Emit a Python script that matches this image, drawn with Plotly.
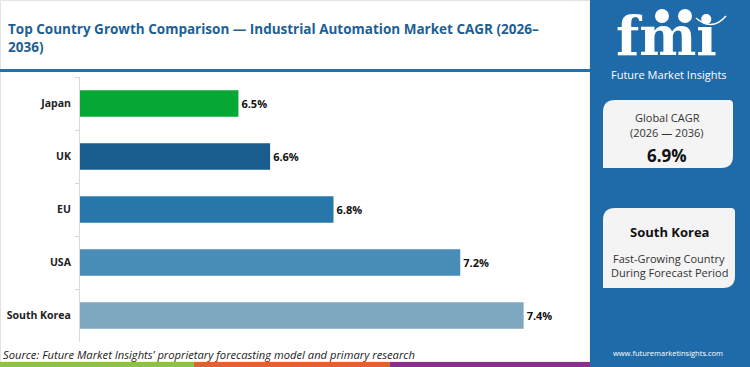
import plotly.graph_objects as go

# ---- data ----
countries = ["Japan", "UK", "EU", "USA", "South Korea"]
cagr = [6.5, 6.6, 6.8, 7.2, 7.4]
bar_colors = ["#05a834", "#195d8e", "#2877ab", "#478db8", "#7ea7c0"]
value_labels = [f"{v:.1f}%" for v in cagr]

title_text = "Top Country Growth Comparison — Industrial Automation Market CAGR (2026–<br>2036)"
global_cagr_label = "Global CAGR"
global_cagr_period = "(2026 — 2036)"
global_cagr_value = "6.9%"
fast_country = "South Korea"
fast_desc = ["Fast-Growing Country", "During Forecast Period"]
source_text = "Source: Future Market Insights’ proprietary forecasting model and primary research"
website = "www.futuremarketinsights.com"

# ---- layout geometry (pixels) ----
W, H = 750, 367
L, R, T, B = 80, 163, 77, 25
PW, PH = W - L - R, H - T - B

def px(x):
    return (x - L) / PW

def py(y):
    return (H - B - y) / PH

FONT = "Open Sans"
PANEL = "#1f6aa8"

fig = go.Figure()
fig.add_trace(go.Bar(
    y=countries, x=cagr, orientation="h",
    marker=dict(color=bar_colors, line=dict(width=0)),
    width=0.5,
    text=value_labels, textposition="outside", cliponaxis=False,
    constraintext="none",
    textfont=dict(family=FONT, size=11, color="#111111", weight="bold"),
    hoverinfo="skip",
))

shapes = []
# left panel light border
shapes.append(dict(type="rect", xref="paper", yref="paper",
                   x0=px(0.5), x1=px(590), y0=py(0.5), y1=py(362),
                   line=dict(color="#e3e3e3", width=1), fillcolor="rgba(0,0,0,0)", layer="below"))
# right blue panel
shapes.append(dict(type="rect", xref="paper", yref="paper",
                   x0=px(590), x1=px(750), y0=py(0), y1=py(367),
                   line=dict(width=0), fillcolor=PANEL, layer="below"))
# divider under title
shapes.append(dict(type="rect", xref="paper", yref="paper",
                   x0=px(0), x1=px(590), y0=py(69), y1=py(72),
                   line=dict(width=0), fillcolor="#2471aa", layer="below"))
# bottom colour strip
for x0, x1, c in [(0, 194, "#8cc43f"), (194, 390, "#e0632b"), (390, 590, "#8a2f8b")]:
    shapes.append(dict(type="rect", xref="paper", yref="paper",
                       x0=px(x0), x1=px(x1), y0=py(362), y1=py(367),
                       line=dict(width=0), fillcolor=c, layer="below"))

def rbox(x0, y0, x1, y1, r):
    # rounded top-left & bottom-right corners, in pixel coords -> paper
    pts = [
        f"M {px(x0)},{py(y0 + r)}",
        f"Q {px(x0)},{py(y0)} {px(x0 + r)},{py(y0)}",
        f"L {px(x1 - 4)},{py(y0)}",
        f"Q {px(x1)},{py(y0)} {px(x1)},{py(y0 + 4)}",
        f"L {px(x1)},{py(y1 - r)}",
        f"Q {px(x1)},{py(y1)} {px(x1 - r)},{py(y1)}",
        f"L {px(x0)},{py(y1)}",
        "Z",
    ]
    return dict(type="path", xref="paper", yref="paper", path=" ".join(pts),
                fillcolor="#f4f4f4", line=dict(width=0), layer="below")

shapes.append(rbox(603, 100, 733, 168, 12))
shapes.append(rbox(603, 208, 735, 288, 12))

# logo circles (globe marks above the letters)
for cx, cy in [(662, 16), (685, 16)]:
    shapes.append(dict(type="circle", xref="paper", yref="paper",
                       x0=px(cx - 7), x1=px(cx + 7), y0=py(cy - 7), y1=py(cy + 7),
                       fillcolor="white", line=dict(width=0), layer="below"))
shapes.append(dict(type="path", xref="paper", yref="paper",
                   path=f"M {px(696)},{py(18)} Q {px(712)},{py(32)} {px(726)},{py(16)}",
                   line=dict(color="white", width=1.5), layer="below"))

annotations = []
def ann(text, x, y, size, color, bold=False, italic=False, xanchor="center", family=FONT, **kw):
    f = dict(family=family, size=size, color=color)
    if bold:
        f["weight"] = "bold"
    if italic:
        f["style"] = "italic"
    d = dict(text=text, xref="paper", yref="paper", x=px(x), y=py(y),
             xanchor=xanchor, yanchor="middle", showarrow=False, font=f)
    d.update(kw)
    annotations.append(d)

# logo text
ann("fmi", 666, 36, 54, "white", bold=True, family="DejaVu Serif")
ann("Future Market Insights", 669, 74, 11, "white")
# boxes
ann(global_cagr_label, 667, 117, 11, "#333333")
ann(global_cagr_period, 667, 132, 11, "#333333")
ann(global_cagr_value, 667, 155, 17, "#111111", bold=True)
ann(fast_country, 669, 232, 13, "#111111", bold=True)
ann(fast_desc[0], 669, 258, 11, "#333333")
ann(fast_desc[1], 669, 272, 11, "#333333")
# source + website
ann(source_text, 1, 354, 11.2, "#222222", italic=True, xanchor="left")
ann(website, 668, 353, 7.5, "white")

fig.update_layout(
    template="none",
    width=W, height=H,
    margin=dict(l=L, r=R, t=T, b=B, autoexpand=False),
    paper_bgcolor="white", plot_bgcolor="white",
    showlegend=False,
    title=dict(text=title_text, xref="container", yref="container",
               x=8 / W, y=1 - 34 / H, xanchor="left", yanchor="middle",
               font=dict(family=FONT, size=13.5, color="#1d5f93", weight="bold")),
    xaxis=dict(range=[6.0, 7.6], showgrid=False, showticklabels=False, zeroline=False,
               showline=False, ticks="", fixedrange=True, automargin=False),
    yaxis=dict(categoryorder="array", categoryarray=countries, autorange="reversed",
               showline=True, linecolor="#d8d8d8", linewidth=1, automargin=False,
               ticks="outside", ticklen=4, tickcolor="#d8d8d8", tickson="boundaries",
               ticklabelstandoff=6, showgrid=False, zeroline=False,
               tickfont=dict(family=FONT, size=10.5, color="#222222", weight="bold")),
    shapes=shapes, annotations=annotations,
)

fig.write_html("out.html")
